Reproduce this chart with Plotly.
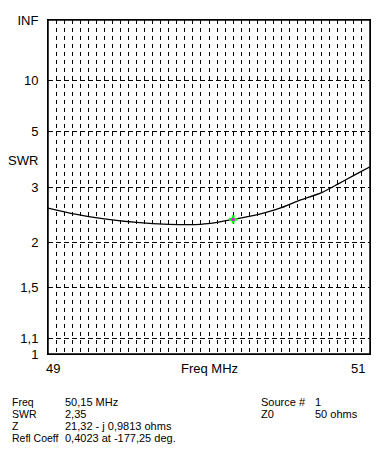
import plotly.graph_objects as go

# ---- data ----
freq_mhz = [49.0, 49.15, 49.35, 49.55, 49.75, 49.95, 50.05, 50.15, 50.25, 50.35,
            50.45, 50.55, 50.7, 50.8, 50.9, 51.0]
swr = [2.55, 2.45, 2.36, 2.30, 2.27, 2.27, 2.30, 2.35, 2.40, 2.47,
       2.56, 2.69, 2.87, 3.07, 3.30, 3.55]
marker_freq = [50.15]
marker_swr = [2.35]

swr_ticks = [1.0, 1.1, 1.5, 2.0, 3.0, 5.0, 10.0, float("inf")]
swr_tick_labels = ["1", "1,1", "1,5", "2", "3", "5", "10", "INF"]

info_left_keys = ["Freq", "SWR", "Z", "Refl Coeff"]
info_left_vals = ["50,15 MHz", "2,35", "21,32 - j 0,9813 ohms", "0,4023 at -177,25 deg."]
info_right_keys = ["Source #", "Z0"]
info_right_vals = ["1", "50 ohms"]


def to_rho(s):
    # SWR scale of the chart is linear in reflection coefficient magnitude
    if s == float("inf"):
        return 1.0
    return (s - 1.0) / (s + 1.0)


FONT = "Liberation Sans, Arial, sans-serif"

fig = go.Figure()
fig.add_trace(go.Scatter(
    x=freq_mhz, y=[to_rho(s) for s in swr], mode="lines",
    line=dict(color="black", width=1.3, shape="spline", smoothing=0.6),
    hoverinfo="skip", showlegend=False))
fig.add_trace(go.Scatter(
    x=marker_freq, y=[to_rho(s) for s in marker_swr], mode="markers",
    marker=dict(symbol="cross", size=7, color="#00ff00", line=dict(width=0)),
    showlegend=False))
fig.add_trace(go.Scatter(
    x=marker_freq, y=[to_rho(s) for s in marker_swr], mode="markers",
    marker=dict(symbol="square", size=3, color="#ff00ff", line=dict(width=0)),
    showlegend=False))

fig.update_xaxes(
    range=[49, 51], dtick=0.05, tick0=49,
    showgrid=True, gridcolor="black", gridwidth=1, griddash="4px,4px",
    showticklabels=False, ticks="", zeroline=False,
    showline=True, linecolor="black", linewidth=1, mirror=True)
fig.update_yaxes(
    range=[0, 1], tickmode="array",
    tickvals=[to_rho(s) for s in swr_ticks], ticktext=swr_tick_labels,
    showgrid=True, gridcolor="black", gridwidth=1, griddash="5px,3px",
    ticks="", ticklabelstandoff=6, zeroline=False,
    tickfont=dict(family=FONT, size=13, color="black"),
    showline=True, linecolor="black", linewidth=1, mirror=True)

# solid frame round the plot area
fig.add_shape(type="rect", xref="paper", yref="paper", x0=0, y0=0, x1=1, y1=1,
              line=dict(color="black", width=1.5), fillcolor="rgba(0,0,0,0)",
              layer="above")

W, H = 391, 458
ml, mr, mt, mb = 48, 21, 20, 104
pw, ph = W - ml - mr, H - mt - mb


def px(xp):
    return (xp - ml) / pw


def py(yp):
    return (H - mb - yp) / ph


ann = []
# x-axis labels
ann.append(dict(x=49, y=-0.015, xref="x", yref="paper", text="49", showarrow=False,
                xanchor="left", yanchor="top", xshift=-4,
                font=dict(family=FONT, size=13, color="black")))
ann.append(dict(x=51, y=-0.015, xref="x", yref="paper", text="51", showarrow=False,
                xanchor="right", yanchor="top", xshift=-3,
                font=dict(family=FONT, size=13, color="black")))
ann.append(dict(x=50, y=-0.015, xref="x", yref="paper", text="Freq MHz", showarrow=False,
                xanchor="center", yanchor="top",
                font=dict(family=FONT, size=13, color="black")))
# SWR axis title
ann.append(dict(x=0, y=py(160), xref="paper", yref="paper", text="SWR",
                showarrow=False, xanchor="right", yanchor="middle", xshift=-8,
                font=dict(family=FONT, size=13, color="black")))

row_y = [402, 414, 426, 438]
for i, (k, v) in enumerate(zip(info_left_keys, info_left_vals)):
    ann.append(dict(x=px(10), y=py(row_y[i]), xref="paper", yref="paper", text=k,
                    showarrow=False, xanchor="left", yanchor="middle",
                    font=dict(family=FONT, size=10.5, color="black")))
    ann.append(dict(x=px(63), y=py(row_y[i]), xref="paper", yref="paper", text=v,
                    showarrow=False, xanchor="left", yanchor="middle",
                    font=dict(family=FONT, size=11, color="black")))
for i, (k, v) in enumerate(zip(info_right_keys, info_right_vals)):
    ann.append(dict(x=px(259), y=py(row_y[i]), xref="paper", yref="paper", text=k,
                    showarrow=False, xanchor="left", yanchor="middle",
                    font=dict(family=FONT, size=11, color="black")))
    ann.append(dict(x=px(313), y=py(row_y[i]), xref="paper", yref="paper", text=v,
                    showarrow=False, xanchor="left", yanchor="middle",
                    font=dict(family=FONT, size=11, color="black")))

fig.update_layout(
    width=W, height=H,
    margin=dict(l=ml, r=mr, t=mt, b=mb, pad=0),
    paper_bgcolor="white", plot_bgcolor="white",
    font=dict(family=FONT, size=13, color="black"),
    annotations=ann, showlegend=False, hovermode=False)

fig.write_html(
    "out.html",
    config={"displayModeBar": False, "staticPlot": True},
    post_script="document.body.style.margin='0';document.body.style.padding='0';")
